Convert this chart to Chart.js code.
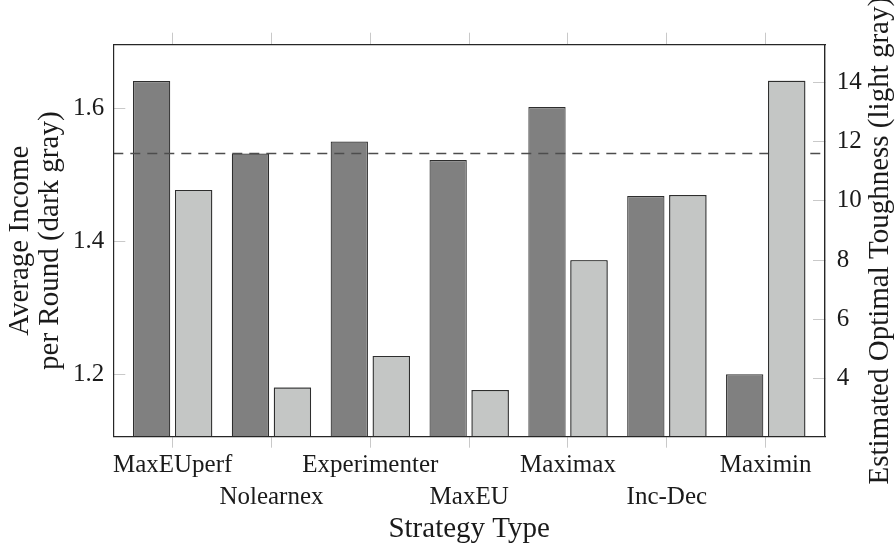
<!DOCTYPE html>
<html>
<head>
<meta charset="utf-8">
<script src="https://cdn.jsdelivr.net/npm/chart.js@4.4.1/dist/chart.umd.min.js"></script>
<style>
html,body{margin:0;padding:0;background:#ffffff;}
canvas{display:block;}
</style>
</head>
<body>
<canvas id="c" width="896" height="554"></canvas>
<script>
// ---- data ----
const categories = ['MaxEUperf', 'Nolearnex', 'Experimenter', 'MaxEU', 'Maximax', 'Inc-Dec', 'Maximin'];
const avgIncome = [1.641, 1.532, 1.550, 1.522, 1.602, 1.468, 1.200];          // dark gray, left axis
const optimalToughness = [10.37, 3.70, 4.77, 3.62, 8.00, 10.20, 14.05];        // light gray, right axis
const baselineIncome = 1.532;                                                 // dashed reference line
const incomeTicks = [1.2, 1.4, 1.6];
const toughnessTicks = [4, 6, 8, 10, 12, 14];
const xDomain = [-0.6, 6.6];
const incomeDomain = [1.106, 1.6956];
const toughnessDomain = [2.043, 15.269];

// ---- styles ----
const SERIF = "'Liberation Serif', 'Times New Roman', serif";
const TEXT = '#1a1a1a';
const TICK_GRAY = '#c9c9c9';
const FRAME = '#262626';
const TICK_SIZE = 25;
const TITLE_SIZE = 29;

const catTicks = () => categories.map((_, i) => ({ value: i }));

const lightOnTop = {
  id: 'lightOnTop',
  afterDatasetsDraw(chart) {
    const meta = chart.getDatasetMeta(1);
    const a = chart.chartArea;
    const ctx = chart.ctx;
    ctx.save();
    ctx.beginPath();
    ctx.rect(a.left, a.top, a.right - a.left, a.bottom - a.top);
    ctx.clip();
    meta.data.forEach(el => el.draw(ctx, a));
    ctx.restore();
  }
};

const rightTitle = {
  id: 'rightTitle',
  afterDraw(chart) {
    const ctx = chart.ctx;
    const a = chart.chartArea;
    ctx.save();
    ctx.font = TITLE_SIZE + 'px ' + SERIF;
    ctx.fillStyle = TEXT;
    ctx.textAlign = 'center';
    ctx.textBaseline = 'alphabetic';
    ctx.translate(888, (a.top + a.bottom) / 2);
    ctx.rotate(-Math.PI / 2);
    ctx.fillText('Estimated Optimal Toughness (light gray)', 0, 0);
    ctx.restore();
  }
};

new Chart(document.getElementById('c'), {
  type: 'bar',
  data: {
    datasets: [
      {
        type: 'bar',
        label: 'Average Income per Round',
        data: categories.map((c, i) => ({ x: i, y: avgIncome[i] })),
        xAxisID: 'x',
        yAxisID: 'y',
        backgroundColor: '#808080',
        borderColor: '#2e2e2e',
        borderWidth: 1.2,
        categoryPercentage: 0.85,
        barPercentage: 0.888,
        order: 0
      },
      {
        type: 'bar',
        label: 'Estimated Optimal Toughness',
        data: categories.map((c, i) => ({ x: i, y: optimalToughness[i] })),
        xAxisID: 'x',
        yAxisID: 'y2',
        backgroundColor: '#c4c6c5',
        borderColor: '#2e2e2e',
        borderWidth: 1.2,
        categoryPercentage: 0.85,
        barPercentage: 0.888,
        order: 0
      },
      {
        type: 'line',
        label: 'Baseline',
        data: xDomain.map(x => ({ x: x, y: baselineIncome })),
        xAxisID: 'x',
        yAxisID: 'y',
        borderColor: '#4d4d4d',
        borderWidth: 1.5,
        borderDash: [10, 7],
        pointRadius: 0,
        fill: false,
        order: -1
      }
    ]
  },
  options: {
    responsive: false,
    animation: false,
    devicePixelRatio: 1,
    events: [],
    layout: { padding: 0 },
    plugins: { legend: { display: false }, tooltip: { enabled: false } },
    scales: {
      x: {
        type: 'linear',
        position: 'bottom',
        min: xDomain[0],
        max: xDomain[1],
        offset: false,
        afterBuildTicks: s => { s.ticks = catTicks(); },
        afterFit: s => { s.height = 117.3; },
        grid: { display: true, offset: false, drawOnChartArea: false, drawTicks: true, tickLength: 11, color: TICK_GRAY, lineWidth: 1 },
        border: { display: true, color: FRAME, width: 1.2, z: 1 },
        ticks: {
          autoSkip: false, maxRotation: 0, minRotation: 0, padding: 1.8, color: TEXT,
          font: { family: SERIF, size: TICK_SIZE, lineHeight: '32px' },
          callback: v => { const i = Math.round(v); return i % 2 === 0 ? [categories[i]] : ['', categories[i]]; }
        },
        title: {
          display: true, text: 'Strategy Type', color: TEXT,
          font: { family: SERIF, size: TITLE_SIZE, lineHeight: '30px' },
          padding: { top: 0, bottom: 9.5 }
        }
      },
      xTop: {
        type: 'linear',
        position: 'top',
        min: xDomain[0],
        max: xDomain[1],
        offset: false,
        afterBuildTicks: s => { s.ticks = catTicks(); },
        afterFit: s => { s.height = 44.7; },
        grid: { display: true, offset: false, drawOnChartArea: false, drawTicks: true, tickLength: 12, color: TICK_GRAY, lineWidth: 1 },
        border: { display: true, color: FRAME, width: 1.2, z: 1 },
        ticks: { display: false }
      },
      y: {
        type: 'linear',
        position: 'left',
        min: incomeDomain[0],
        max: incomeDomain[1],
        afterBuildTicks: s => { s.ticks = incomeTicks.map(v => ({ value: v })); },
        afterFit: s => { s.width = 113.3; },
        grid: { display: true, drawOnChartArea: false, drawTicks: true, tickLength: -12, color: TICK_GRAY, lineWidth: 1 },
        border: { display: true, color: FRAME, width: 1.2, z: 1 },
        ticks: { padding: 21, color: TEXT, font: { family: SERIF, size: TICK_SIZE }, callback: v => Number(v).toFixed(1) },
        title: {
          display: true, text: ['Average Income', 'per Round (dark gray)'], color: TEXT,
          font: { family: SERIF, size: TITLE_SIZE, lineHeight: '30px' },
          padding: { top: 5.5, bottom: 0 }
        }
      },
      y2: {
        type: 'linear',
        position: 'right',
        min: toughnessDomain[0],
        max: toughnessDomain[1],
        afterBuildTicks: s => { s.ticks = toughnessTicks.map(v => ({ value: v })); },
        afterFit: s => { s.width = 71; },
        grid: { display: true, drawOnChartArea: false, drawTicks: true, tickLength: -12, color: TICK_GRAY, lineWidth: 1 },
        border: { display: true, color: FRAME, width: 1.4, z: 1 },
        ticks: { padding: 23.7, color: TEXT, font: { family: SERIF, size: TICK_SIZE }, callback: v => String(v) }
      }
    }
  },
  plugins: [lightOnTop, rightTitle]
});
</script>
</body>
</html>
